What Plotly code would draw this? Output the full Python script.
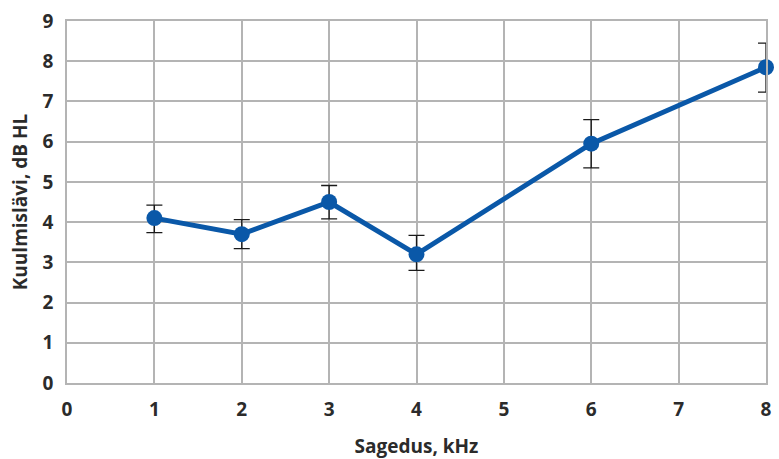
import plotly.graph_objects as go

# Hearing threshold by frequency, with error margins
freq_khz = [1, 2, 3, 4, 6, 8]
threshold_db = [4.1, 3.7, 4.5, 3.2, 5.95, 7.85]
err_plus = [0.32, 0.36, 0.41, 0.47, 0.6, 0.6]
err_minus = [0.36, 0.36, 0.42, 0.4, 0.6, 0.62]

x_ticks = [0, 1, 2, 3, 4, 5, 6, 7, 8]
y_ticks = [0, 1, 2, 3, 4, 5, 6, 7, 8, 9]

blue = "#0a58a8"
grid = "#b4b4b4"
text_col = "#2b2b2b"
font_family = "Open Sans"

fig = go.Figure()
fig.add_trace(go.Scatter(
    x=freq_khz,
    y=threshold_db,
    mode="lines+markers",
    line=dict(color=blue, width=5),
    marker=dict(color=blue, size=16),
    error_y=dict(type="data", symmetric=False, array=err_plus, arrayminus=err_minus,
                 color="#1a1a1a", thickness=1.3, width=8),
    cliponaxis=False,
    showlegend=False,
))

fig.update_layout(
    width=779, height=459,
    margin=dict(l=67, r=13, t=21, b=76),
    paper_bgcolor="white", plot_bgcolor="white",
    font=dict(family=font_family, color=text_col),
    xaxis=dict(
        range=[0, 8], tickmode="array", tickvals=x_ticks,
        ticktext=[f"<b>{v}</b>" for v in x_ticks],
        tickfont=dict(size=19, family=font_family, color=text_col),
        showgrid=True, gridcolor=grid, gridwidth=1.5,
        showline=True, linecolor=grid, linewidth=1.5, mirror=True,
        zeroline=False, ticks="outside", ticklen=8, tickcolor="rgba(0,0,0,0)",
        automargin=False,
        title=dict(text="<b>Sagedus, kHz</b>", font=dict(size=19, family=font_family, color=text_col), standoff=22),
    ),
    yaxis=dict(
        range=[0, 9], tickmode="array", tickvals=y_ticks,
        ticktext=[f"<b>{v}</b>" for v in y_ticks],
        tickfont=dict(size=19, family=font_family, color=text_col),
        showgrid=True, gridcolor=grid, gridwidth=1.5,
        showline=True, linecolor=grid, linewidth=1.5, mirror=True,
        zeroline=False, ticks="outside", ticklen=8, tickcolor="rgba(0,0,0,0)",
        automargin=False,
        title=dict(text="<b>Kuulmislävi, dB HL</b>", font=dict(size=19, family=font_family, color=text_col), standoff=10),
    ),
)

fig.write_html("out.html")
